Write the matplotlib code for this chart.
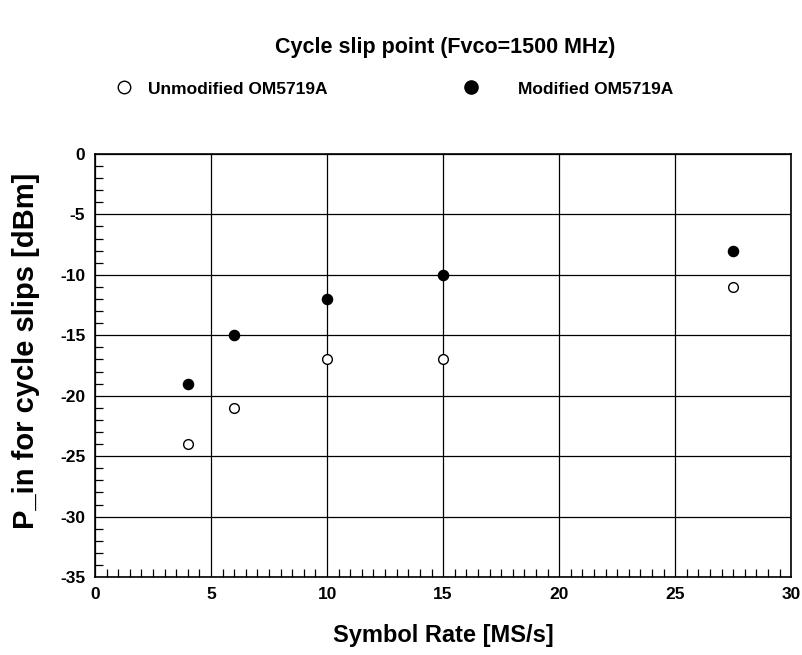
import matplotlib
matplotlib.use("Agg")
import matplotlib.pyplot as plt
from matplotlib.lines import Line2D
from matplotlib.ticker import MultipleLocator

plt.rcParams['font.family'] = ['Liberation Sans', 'DejaVu Sans']
plt.rcParams['font.weight'] = 'bold'
plt.rcParams['axes.unicode_minus'] = False

# symbol rate [MS/s]
rate = [4, 6, 10, 15, 27.5]
unmodified = [-24, -21, -17, -17, -11]
modified = [-19, -15, -12, -10, -8]

fig = plt.figure(figsize=(8.02, 6.55), dpi=100)
ax = fig.add_axes([0.1185, 0.119, 0.868, 0.646])

ax.plot(rate, unmodified, 'o', mfc='white', mec='black', ms=7, mew=1, zorder=3)
ax.plot(rate, modified, 'o', mfc='black', mec='black', ms=7.3, mew=1, zorder=3)

ax.set_xlim(0, 30)
ax.set_ylim(-35, 0)
ax.xaxis.set_major_locator(MultipleLocator(5))
ax.xaxis.set_minor_locator(MultipleLocator(0.5))
ax.yaxis.set_major_locator(MultipleLocator(5))
ax.yaxis.set_minor_locator(MultipleLocator(1))
ax.grid(True, which='major', color='black', lw=0.9)
ax.tick_params(which='both', direction='in', top=False, right=False)
ax.tick_params(which='major', length=0, labelsize=12.5, pad=7)
ax.tick_params(which='minor', length=6, width=0.9)
for s in ax.spines.values():
    s.set_linewidth(1.2)
for lab in ax.get_xticklabels() + ax.get_yticklabels():
    lab.set_fontweight('bold')

ax.set_xlabel('Symbol Rate [MS/s]', fontsize=17, fontweight='bold', labelpad=16)
ax.set_ylabel('P_in for cycle slips [dBm]', fontsize=21, fontweight='bold')
ax.yaxis.set_label_coords(-0.079, 0.535)

fig.text(0.555, 0.928, 'Cycle slip point (Fvco=1500 MHz)', ha='center', va='center',
         fontsize=15.5, fontweight='bold')

# legend row
fig.add_artist(Line2D([124 / 802], [1 - 87 / 655], marker='o', mfc='white', mec='black',
                      ms=9, mew=1, ls='none', transform=fig.transFigure))
fig.text(148 / 802, 1 - 89 / 655, 'Unmodified OM5719A', ha='left', va='center',
         fontsize=12.5, fontweight='bold')
fig.add_artist(Line2D([471 / 802], [1 - 87 / 655], marker='o', mfc='black', mec='black',
                      ms=9.5, mew=1, ls='none', transform=fig.transFigure))
fig.text(518 / 802, 1 - 89 / 655, 'Modified OM5719A', ha='left', va='center',
         fontsize=12.5, fontweight='bold')

fig.savefig('out.png', dpi=100)
